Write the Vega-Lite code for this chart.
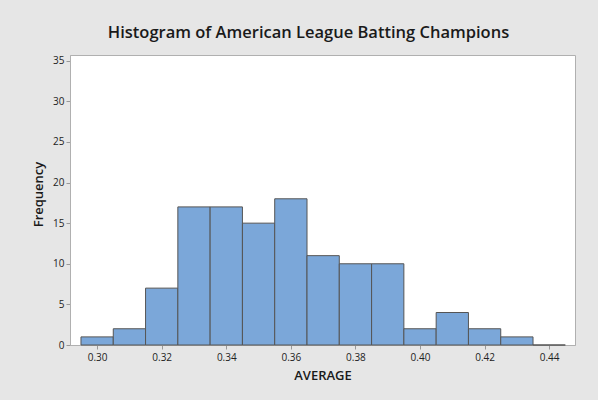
{
  "$schema": "https://vega.github.io/schema/vega-lite/v6.json",
  "autosize": "none",
  "width": 505,
  "height": 290,
  "padding": {"left": 70, "top": 55, "right": 23, "bottom": 55},
  "background": "#e6e6e6",
  "title": {
    "text": "Histogram of American League Batting Champions",
    "font": "Open Sans",
    "fontSize": 16.5,
    "fontWeight": 600,
    "color": "#1a1a1a",
    "anchor": "middle",
    "dx": -14,
    "offset": 14
  },
  "config": {
    "view": {"fill": "white", "stroke": "#b0b0b0", "strokeWidth": 1},
    "axis": {
      "labelFont": "Open Sans",
      "labelFontSize": 10,
      "labelColor": "#222",
      "titleFont": "Open Sans",
      "titleFontSize": 13,
      "titleFontWeight": 600,
      "titleColor": "#1a1a1a",
      "tickColor": "#999",
      "tickSize": 4,
      "domainColor": "#b0b0b0",
      "grid": false
    }
  },
  "data": {
    "values": [
      {"lo": 0.295, "hi": 0.305, "count": 1},
      {"lo": 0.305, "hi": 0.315, "count": 2},
      {"lo": 0.315, "hi": 0.325, "count": 7},
      {"lo": 0.325, "hi": 0.335, "count": 17},
      {"lo": 0.335, "hi": 0.345, "count": 17},
      {"lo": 0.345, "hi": 0.355, "count": 15},
      {"lo": 0.355, "hi": 0.365, "count": 18},
      {"lo": 0.365, "hi": 0.375, "count": 11},
      {"lo": 0.375, "hi": 0.385, "count": 10},
      {"lo": 0.385, "hi": 0.395, "count": 10},
      {"lo": 0.395, "hi": 0.405, "count": 2},
      {"lo": 0.405, "hi": 0.415, "count": 4},
      {"lo": 0.415, "hi": 0.425, "count": 2},
      {"lo": 0.425, "hi": 0.435, "count": 1},
      {"lo": 0.435, "hi": 0.445, "count": 0}
    ]
  },
  "mark": {"type": "rect", "fill": "#7ba7d9", "stroke": "#555555", "strokeWidth": 1},
  "encoding": {
    "x": {
      "field": "lo",
      "type": "quantitative",
      "scale": {"domain": [0.2916, 0.448], "nice": false, "zero": false},
      "axis": {
        "title": "AVERAGE",
        "values": [0.30, 0.32, 0.34, 0.36, 0.38, 0.40, 0.42, 0.44],
        "format": ".2f",
        "labelPadding": 3,
        "titlePadding": 7
      }
    },
    "x2": {"field": "hi"},
    "y": {
      "field": "count",
      "type": "quantitative",
      "scale": {"domain": [0, 35.7], "nice": false},
      "axis": {
        "title": "Frequency",
        "values": [0, 5, 10, 15, 20, 25, 30, 35],
        "labelPadding": 2,
        "titlePadding": 7,
        "titleY": 139
      }
    },
    "y2": {"datum": 0}
  }
}
